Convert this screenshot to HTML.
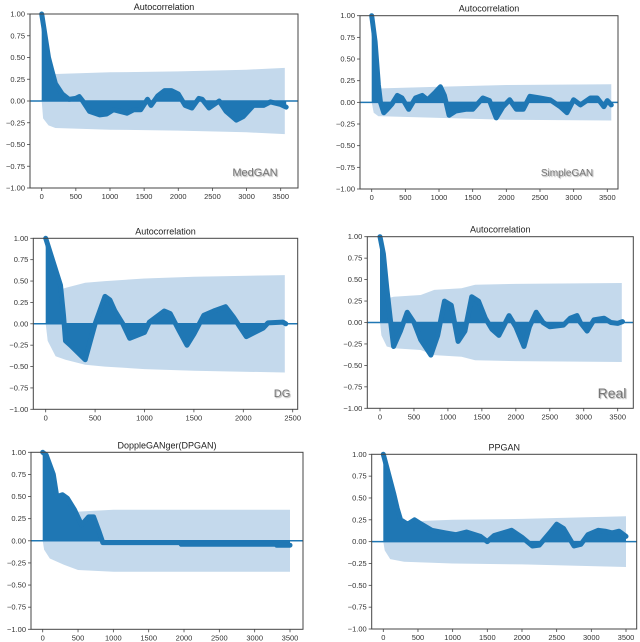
<!DOCTYPE html>
<html><head><meta charset="utf-8">
<style>
html,body{margin:0;padding:0;background:#fff;}
svg{display:block;font-family:"Liberation Sans",sans-serif;}
</style></head>
<body>
<svg id="c" width="640" height="642" viewBox="0 0 640 642" xmlns="http://www.w3.org/2000/svg"></svg>
<script>
// ---- data ----
const medLags = [0,50,100,150,200,300,400,500,550,600,700,850,950,1050,1150,1250,1350,1450,1550,1600,1700,1800,1900,2000,2100,2200,2300,2350,2450,2600,2700,2850,2950,3100,3250,3350,3500,3580];
const medAcf  = [1,0.75,0.5,0.35,0.2,0.08,0.02,0.03,0.05,0.0,-0.12,-0.16,-0.15,-0.1,-0.12,-0.14,-0.1,-0.1,0.02,-0.05,0.06,0.12,0.12,0.08,-0.05,-0.08,0.03,0.02,-0.08,0,-0.12,-0.22,-0.18,-0.05,-0.05,-0.01,-0.04,-0.07];
const medBandLags = [0,20,100,200,1000,2000,3000,3560];
const medBand = [0,0.2,0.28,0.31,0.33,0.34,0.36,0.38];

const simLags = [0,50,100,130,180,230,300,380,450,550,650,750,830,950,1020,1080,1150,1250,1400,1500,1650,1750,1850,1950,2050,2150,2250,2350,2500,2650,2800,2900,3000,3100,3250,3350,3450,3500,3560];
const simAcf  = [1,0.7,0.2,0,-0.12,-0.08,-0.02,0.08,0.05,-0.08,0.05,0.08,0.03,0.12,0.18,0.08,-0.15,-0.1,-0.08,-0.08,0.05,0.02,-0.18,-0.05,0.03,-0.08,-0.08,0.07,0.05,0.03,-0.05,-0.12,0.03,-0.03,0.05,0.05,-0.05,0.02,-0.03];
const simBandLags = [0,30,100,1000,2000,3560];
const simBand = [0,0.12,0.16,0.18,0.2,0.21];

const dgLags = [0,150,180,200,250,400,500,600,650,700,780,850,1000,1050,1200,1260,1350,1430,1500,1600,1700,1820,1900,2030,2200,2250,2400,2430];
const dgAcf  = [1,0.45,0.1,-0.2,-0.25,-0.42,0,0.32,0.28,0.15,0,-0.17,-0.1,0.02,0.15,0.12,-0.08,-0.25,-0.12,0.1,0.15,0.2,0.08,-0.15,-0.05,0.01,0.02,0];
const dgBandLags = [0,20,100,200,400,600,1000,1500,2420];
const dgBand = [0,0.2,0.38,0.42,0.48,0.5,0.53,0.55,0.57];

const realLags = [0,50,100,150,200,300,400,500,600,750,850,950,1050,1150,1250,1350,1450,1550,1650,1750,1900,2000,2120,2200,2300,2400,2500,2700,2800,2900,2950,3050,3150,3300,3400,3500,3570];
const realAcf  = [1,0.8,0.4,0.05,-0.28,-0.1,0.12,0,-0.2,-0.38,-0.15,0.25,0.2,-0.22,-0.1,0.3,0.25,0.05,-0.08,-0.15,0.08,-0.05,-0.28,-0.05,0.12,0,-0.05,-0.03,0.05,0.08,0,-0.1,0.03,0.05,0,-0.01,0.01];
const realBandLags = [0,20,100,200,600,800,1200,1400,2000,3560];
const realBand = [0,0.15,0.28,0.3,0.32,0.38,0.4,0.44,0.45,0.46];

const dpLags = [0,50,150,200,280,350,450,550,650,720,800,850,1950,1960,3300,3310,3500];
const dpAcf  = [1,0.97,0.75,0.5,0.52,0.48,0.35,0.18,0.27,0.27,0.1,-0.02,-0.02,-0.04,-0.04,-0.05,-0.05];
const dpBandLags = [0,20,100,300,500,1000,3500];
const dpBand = [0,0.1,0.2,0.27,0.33,0.35,0.35];

const ppLags = [0,50,150,200,250,350,450,550,700,900,1050,1200,1400,1500,1600,1850,2000,2150,2250,2400,2500,2600,2750,2850,2950,3100,3200,3300,3400,3500];
const ppAcf  = [1,0.85,0.55,0.38,0.25,0.2,0.25,0.2,0.13,0.1,0.08,0.11,0.06,0.0,0.07,0.13,0.05,-0.05,-0.04,0.1,0.2,0.15,-0.05,-0.03,0.08,0.13,0.12,0.1,0.12,0.06];
const ppBandLags = [0,20,100,300,1000,2000,3500];
const ppBand = [0,0.1,0.2,0.23,0.25,0.26,0.29];

const yTicks = [1,0.75,0.5,0.25,0,-0.25,-0.5,-0.75,-1];
const xTicks3500 = [0,500,1000,1500,2000,2500,3000,3500];
const xTicks2500 = [0,500,1000,1500,2000,2500];

// ---- layout ----
const panels = [
 {name:'medgan',title:'Autocorrelation',L:30,R:298,yTop:14,yBot:188,x0:41.7,xRef:3500,xRefPx:280.7,lags:medLags,acf:medAcf,bl:medBandLags,band:medBand,xt:xTicks3500,label:'MedGAN',lx:255,ly:176,ls:11},
 {name:'simplegan',title:'Autocorrelation',L:360,R:618,yTop:15.7,yBot:189,x0:371.7,xRef:3500,xRefPx:607.3,lags:simLags,acf:simAcf,bl:simBandLags,band:simBand,xt:xTicks3500,label:'SimpleGAN',lx:567,ly:176,ls:10},
 {name:'dg',title:'Autocorrelation',L:33.3,R:297.7,yTop:238.3,yBot:409.3,x0:45.7,xRef:2500,xRefPx:292.7,lags:dgLags,acf:dgAcf,bl:dgBandLags,band:dgBand,xt:xTicks2500,label:'DG',lx:282,ly:397,ls:11},
 {name:'real',title:'Autocorrelation',L:367.3,R:633.3,yTop:236.7,yBot:408.3,x0:380,xRef:3500,xRefPx:617.7,lags:realLags,acf:realAcf,bl:realBandLags,band:realBand,xt:xTicks3500,label:'Real',lx:612,ly:398,ls:14},
 {name:'dpgan',title:'DoppleGANger(DPGAN)',L:31,R:303,yTop:452.3,yBot:629.3,x0:42.7,xRef:3500,xRefPx:290,lags:dpLags,acf:dpAcf,bl:dpBandLags,band:dpBand,xt:xTicks3500,label:''},
 {name:'ppgan',title:'PPGAN',L:371.7,R:636.7,yTop:454.3,yBot:629,x0:383.3,xRef:3500,xRefPx:626,lags:ppLags,acf:ppAcf,bl:ppBandLags,band:ppBand,xt:xTicks3500,label:''}
];

const NS='http://www.w3.org/2000/svg';
const svg=document.getElementById('c');
function mk(tag,attrs,parent){const e=document.createElementNS(NS,tag);for(const k in attrs)e.setAttribute(k,attrs[k]);(parent||svg).appendChild(e);return e;}

panels.forEach(p=>{
  const g=mk('g',{});
  
  
  const xs=v=>p.x0+(v/p.xRef)*(p.xRefPx-p.x0);
  const ys=v=>p.yTop+(1-v)/2*(p.yBot-p.yTop);
  let up=p.bl.map((l,i)=>xs(l).toFixed(1)+','+ys(p.band[i]).toFixed(1));
  let dn=[];
  for(let j=p.bl.length-1;j>=0;j--) dn.push(xs(p.bl[j]).toFixed(1)+','+ys(-p.band[j]).toFixed(1));
  const band=mk('polygon',{points:up.concat(dn).join(' '),fill:'#c4d9ec'},g);
  
  
  const z=mk('line',{x1:p.L,x2:p.R,y1:ys(0),y2:ys(0),stroke:'#1f77b4','stroke-width':1.5},g);
  
  
  let pts=[xs(p.lags[0]).toFixed(1)+','+ys(0).toFixed(1)];
  p.lags.forEach((l,i)=>pts.push(xs(l).toFixed(1)+','+ys(p.acf[i]).toFixed(1)));
  pts.push(xs(p.lags[p.lags.length-1]).toFixed(1)+','+ys(0).toFixed(1));
  const area=mk('polygon',{points:pts.join(' '),fill:'#1f77b4'},g);
  
  
  const line=mk('polyline',{points:p.lags.map((l,i)=>xs(l).toFixed(1)+','+ys(p.acf[i]).toFixed(1)).join(' '),fill:'none',stroke:'#1f77b4','stroke-width':5,'stroke-linejoin':'round','stroke-linecap':'round'},g);
  
  
  const fr=mk('rect',{x:p.L,y:p.yTop,width:p.R-p.L,height:p.yBot-p.yTop,fill:'none',stroke:'#444','stroke-width':1},g);
  
  
  yTicks.forEach(t=>{
    const y=ys(t);
    mk('line',{x1:p.L-3,x2:p.L,y1:y,y2:y,stroke:'#444','stroke-width':0.8},g);
    const tx=mk('text',{x:p.L-5,y:y+2.5,'font-size':7.5,fill:'#333','text-anchor':'end'},g);
    tx.textContent=t<0?'\u2212'+Math.abs(t).toFixed(2):t.toFixed(2);
    
    
  });
  p.xt.forEach(t=>{
    const x=xs(t);
    mk('line',{x1:x,x2:x,y1:p.yBot,y2:p.yBot+3,stroke:'#444','stroke-width':0.8},g);
    const tx=mk('text',{x:x,y:p.yBot+11,'font-size':7.5,fill:'#333','text-anchor':'middle'},g);
    tx.textContent=t;
    
    
  });
  const ti=mk('text',{x:(p.L+p.R)/2,y:p.yTop-4,'font-size':9,fill:'#222','text-anchor':'middle'},g);
  ti.textContent=p.title;
  
  
  if(p.label){
    const lb=mk('text',{x:p.lx,y:p.ly,'font-size':p.ls,fill:'#777','text-anchor':'middle','font-weight':'500',style:'text-shadow:1px 1px 1px #aaa'},g);
    lb.textContent=p.label;
    
    
  }
});
</script>
</body></html>
